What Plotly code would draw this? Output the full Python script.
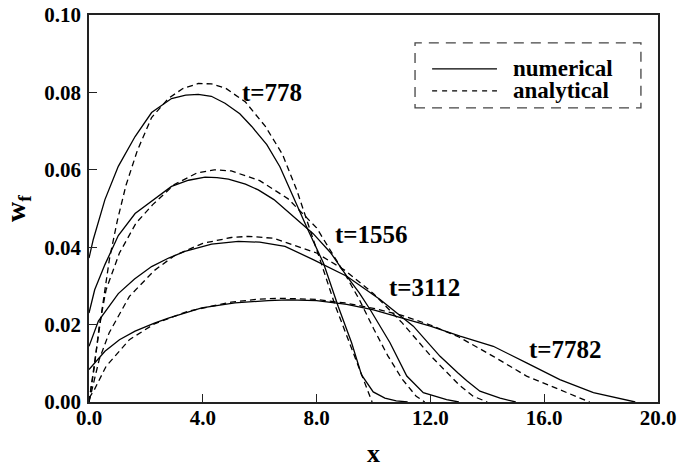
import plotly.graph_objects as go

# ---------------- data ----------------
x_num_778 = [0, 0.15, 0.56, 1.03, 1.62, 2.2, 2.9, 3.4, 3.84, 4.3, 4.78, 5.3, 5.72, 6.25, 6.71, 7.07, 7.65, 8.24, 8.76, 9.23, 9.58, 9.99, 10.4, 10.8, 11.2]
y_num_778 = [0.0372, 0.042, 0.0523, 0.0609, 0.0686, 0.0748, 0.0784, 0.0793, 0.0795, 0.0790, 0.0772, 0.0745, 0.0712, 0.0665, 0.0608, 0.0548, 0.0452, 0.0359, 0.0247, 0.0153, 0.0070, 0.0026, 0.0010, 0.0003, 0.0]

x_ana_778 = [0, 0.07, 0.25, 0.48, 0.72, 1.0, 1.3, 1.7, 2.2, 2.8, 3.3, 3.84, 4.3, 4.8, 5.5, 6.2, 6.8, 7.3, 7.6, 8.12, 8.65, 9.06, 9.47, 9.82, 9.95]
y_ana_778 = [0.0, 0.004, 0.013, 0.025, 0.037, 0.047, 0.056, 0.065, 0.0735, 0.0785, 0.0810, 0.0823, 0.0822, 0.0811, 0.0775, 0.0712, 0.0640, 0.0548, 0.0480, 0.0368, 0.0250, 0.0170, 0.0092, 0.0024, 0.0]

x_num_1556 = [0, 0.2, 0.56, 1.03, 1.62, 2.3, 2.9, 3.5, 4.08, 4.5, 4.9, 5.5, 5.95, 6.5, 7.18, 7.88, 8.5, 9.06, 9.5, 9.88, 10.58, 11.17, 11.75, 12.57, 13.0]
y_num_1556 = [0.023, 0.029, 0.0355, 0.0430, 0.0487, 0.0525, 0.0557, 0.0573, 0.0581, 0.0580, 0.0576, 0.0563, 0.0548, 0.0523, 0.0480, 0.0435, 0.0385, 0.0325, 0.0282, 0.0239, 0.0153, 0.0067, 0.0024, 0.0006, 0.0]

x_ana_1556 = [0, 0.07, 0.19, 0.36, 0.6, 1.07, 1.65, 2.24, 3.0, 3.8, 4.4, 5.0, 6.0, 7.0, 8.0, 9.0, 9.5, 10.0, 10.5, 11.0, 11.5, 11.8]
y_ana_1556 = [0.0, 0.003, 0.0092, 0.0196, 0.029, 0.0385, 0.0462, 0.051, 0.0562, 0.0592, 0.0600, 0.0597, 0.0572, 0.0525, 0.0450, 0.0330, 0.0265, 0.0190, 0.0120, 0.0060, 0.0015, 0.0]

x_num_3112 = [0, 0.33, 1.03, 1.6, 2.2, 2.8, 3.37, 4.31, 5.25, 6.0, 6.89, 7.88, 9.06, 10.23, 11.4, 12.34, 12.97, 13.28, 13.74, 14.45, 15.0]
y_num_3112 = [0.0144, 0.0209, 0.0280, 0.0318, 0.0350, 0.0372, 0.0389, 0.0408, 0.0415, 0.0413, 0.0402, 0.0368, 0.0325, 0.0265, 0.0196, 0.0118, 0.0075, 0.0055, 0.0028, 0.0010, 0.0]

x_ana_3112 = [0, 0.13, 0.36, 0.71, 1.42, 2.3, 3.0, 4.0, 5.0, 5.6, 6.5, 8.0, 9.0, 10.0, 11.0, 12.0, 13.0, 13.5, 14.0]
y_ana_3112 = [0.0, 0.004, 0.011, 0.0179, 0.0273, 0.0340, 0.0378, 0.0410, 0.0425, 0.0428, 0.0423, 0.0385, 0.0340, 0.0280, 0.0205, 0.0120, 0.0045, 0.0015, 0.0]

x_num_7782 = [0, 0.56, 1.07, 1.62, 2.3, 2.79, 3.96, 5.13, 6.3, 7.0, 8.0, 9.06, 10.0, 10.82, 12.0, 13.04, 14.21, 15.38, 16.55, 17.73, 18.55, 19.2]
y_num_7782 = [0.0084, 0.0131, 0.0161, 0.0183, 0.0204, 0.0217, 0.0243, 0.0256, 0.0262, 0.0264, 0.0262, 0.0252, 0.0238, 0.0221, 0.0196, 0.0170, 0.0144, 0.0101, 0.0058, 0.0024, 0.0010, 0.0]

x_ana_7782 = [0, 0.19, 0.6, 1.42, 2.3, 3.5, 5.0, 6.0, 6.8, 8.0, 9.0, 10.0, 11.0, 12.0, 13.0, 14.21, 15.38, 16.55, 17.26, 17.6]
y_ana_7782 = [0.001, 0.0032, 0.0092, 0.0161, 0.0202, 0.0235, 0.0258, 0.0266, 0.0268, 0.0265, 0.0256, 0.0242, 0.0224, 0.0199, 0.0168, 0.0118, 0.0067, 0.0032, 0.0010, 0.0]

time_labels = ["t=778", "t=1556", "t=3112", "t=7782"]
label_x = [5.3, 8.58, 10.47, 15.4]
label_y = [0.0801, 0.0432, 0.0295, 0.01355]

x_ticks = [0, 4, 8, 12, 16, 20]
y_ticks = [0.0, 0.02, 0.04, 0.06, 0.08, 0.10]
legend_names = ["numerical", "analytical"]

# ---------------- figure ----------------
FONT = "Liberation Serif"
fig = go.Figure()

series = [
    (x_num_778, y_num_778, "solid"), (x_ana_778, y_ana_778, "6px,4px"),
    (x_num_1556, y_num_1556, "solid"), (x_ana_1556, y_ana_1556, "6px,4px"),
    (x_num_3112, y_num_3112, "solid"), (x_ana_3112, y_ana_3112, "6px,4px"),
    (x_num_7782, y_num_7782, "solid"), (x_ana_7782, y_ana_7782, "6px,4px"),
]
for xs, ys, dash in series:
    fig.add_trace(go.Scatter(x=xs, y=ys, mode="lines", showlegend=False,
                             line=dict(color="black", width=1.3, dash=dash)))

for txt, lx, ly in zip(time_labels, label_x, label_y):
    fig.add_annotation(x=lx, y=ly, text=txt, showarrow=False, xanchor="left", yanchor="middle",
                       font=dict(family=FONT, size=25, color="black", weight="bold"))

# manual legend with a dashed frame
fig.add_shape(type="rect", xref="paper", yref="paper", x0=0.573, x1=0.970, y0=0.760, y1=0.928,
              line=dict(color="#444", width=1.3, dash="10px,7px"), fillcolor="rgba(0,0,0,0)")
leg_y = [0.8606, 0.8039]
leg_dash = ["solid", "5px,5px"]
for name, yy, dash in zip(legend_names, leg_y, leg_dash):
    fig.add_shape(type="line", xref="paper", yref="paper", x0=0.603, x1=0.717, y0=yy, y1=yy,
                  line=dict(color="black", width=1.3, dash=dash))
    fig.add_annotation(xref="paper", yref="paper", x=0.7417, y=yy, text=name, showarrow=False,
                       xanchor="left", yanchor="middle",
                       font=dict(family=FONT, size=23, color="black", weight="bold"))

axis_common = dict(showline=True, mirror=True, linecolor="#222", linewidth=1.5,
                   ticks="inside", ticklen=8, tickwidth=1, tickcolor="#222",
                   showgrid=False, zeroline=False, automargin=False,
                   tickfont=dict(family=FONT, size=21, color="black", weight="bold"))

fig.update_xaxes(range=[0, 20], tickvals=x_ticks, tickformat=".1f", ticklabelstandoff=-4,
                 title=dict(text="x", font=dict(family=FONT, size=26, color="black", weight="bold"), standoff=24),
                 **axis_common)
fig.update_yaxes(range=[0, 0.10], tickvals=y_ticks, tickformat=".2f", ticklabelstandoff=2,
                 title=dict(text="w<sub>f</sub>", font=dict(family=FONT, size=28, color="black", weight="bold"), standoff=10),
                 **axis_common)

fig.update_layout(width=683, height=468, margin=dict(l=89, r=25, t=15, b=66),
                  plot_bgcolor="white", paper_bgcolor="white", showlegend=False)

fig.write_html("out.html")
